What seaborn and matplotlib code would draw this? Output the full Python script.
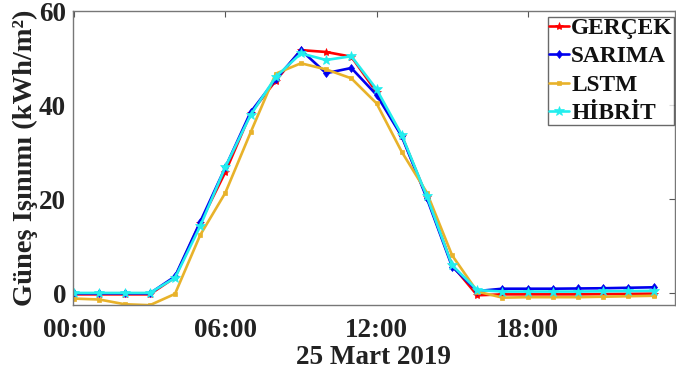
import numpy as np
import pandas as pd
import matplotlib
matplotlib.use("Agg")
import matplotlib.pyplot as plt
import seaborn as sns

hours = list(range(24))
gercek = [-0.2, -0.2, -0.2, -0.2, 3.4, 15.0, 25.8, 38.3, 45.2, 51.7, 51.3, 50.3, 42.8, 33.5, 20.5, 6.0,
          -0.4, -0.2, -0.2, -0.2, -0.2, -0.15, -0.1, -0.05]
sarima = [0.0, 0.0, 0.0, 0.0, 3.6, 15.2, 26.8, 38.5, 45.5, 51.7, 46.8, 47.9, 42.2, 33.4, 20.2, 5.7,
          0.5, 1.0, 1.0, 1.0, 1.05, 1.1, 1.2, 1.3]
lstm = [-1.1, -1.3, -2.3, -2.5, -0.1, 12.4, 21.4, 34.2, 46.7, 48.9, 47.6, 45.7, 40.4, 30.1, 21.4, 8.1,
        0.4, -0.9, -0.8, -0.8, -0.8, -0.7, -0.6, -0.5]
hibrit = [0.1, 0.1, 0.1, 0.1, 3.3, 14.3, 26.9, 37.9, 46.0, 51.0, 49.6, 50.4, 43.4, 33.7, 20.6, 6.0,
          0.7, 0.4, 0.4, 0.4, 0.4, 0.45, 0.5, 0.55]
series_names = ["GERÇEK", "SARIMA", "LSTM", "HİBRİT"]
xtick_pos = [0, 6, 12, 18]
xtick_labels = ["00:00", "06:00", "12:00", "18:00"]
ytick_vals = [0, 20, 40, 60]

sns.set_style("white")
plt.rcParams["font.family"] = ["Liberation Serif", "DejaVu Serif"]
plt.rcParams["font.weight"] = "bold"

fig = plt.figure(figsize=(6.76, 3.81), dpi=100)
ax = fig.add_axes([0.108, 0.199, 0.8905, 0.772])

styles = [
    dict(color="#ff0000", marker="*", markersize=6),
    dict(color="#0000ee", marker="d", markersize=4.5),
    dict(color="#e8b22a", marker="s", markersize=3.5),
    dict(color="#22eeee", marker="*", markersize=7.5),
]
data = [gercek, sarima, lstm, hibrit]
for name, vals, st in zip(series_names, data, styles):
    df = pd.DataFrame({"saat": hours, "deger": vals})
    sns.lineplot(data=df, x="saat", y="deger", ax=ax, label=name, linewidth=1.9,
                 color=st["color"], marker=st["marker"], markersize=st["markersize"],
                 markeredgecolor=st["color"], markeredgewidth=0.5)

ax.set_xlim(-0.05, 23.85)
ax.set_ylim(-2.5, 60)
ax.set_xticks(xtick_pos)
ax.set_xticklabels(xtick_labels)
ax.set_yticks(ytick_vals)
ax.tick_params(axis="both", direction="in", length=4, width=0.8, colors="#555555",
               top=True, right=True, labelsize=19.5, labelcolor="#222222")
ax.tick_params(axis="x", pad=9)
ax.tick_params(axis="y", pad=5)
for lab in ax.get_xticklabels() + ax.get_yticklabels():
    lab.set_fontweight("bold")
for sp in ax.spines.values():
    sp.set_color("#777777")
    sp.set_linewidth(1.0)

ax.set_xlabel("25 Mart 2019", fontsize=19.5, fontweight="bold", color="#222222", labelpad=2)
ax.set_ylabel("Güneş Işınımı (kWh/m²)", fontsize=20.5, fontweight="bold", color="#222222", labelpad=1)

leg = ax.legend(loc="upper right", bbox_to_anchor=(1.0, 0.985), fontsize=16.8, frameon=True,
                fancybox=False, edgecolor="#444444", handlelength=0.85, handletextpad=0.08,
                borderpad=0.05, labelspacing=0.3, borderaxespad=0.05)
leg.get_frame().set_linewidth(1.0)
for t in leg.get_texts():
    t.set_fontweight("bold")
    t.set_color("#111111")

fig.savefig("out.png", dpi=100)
